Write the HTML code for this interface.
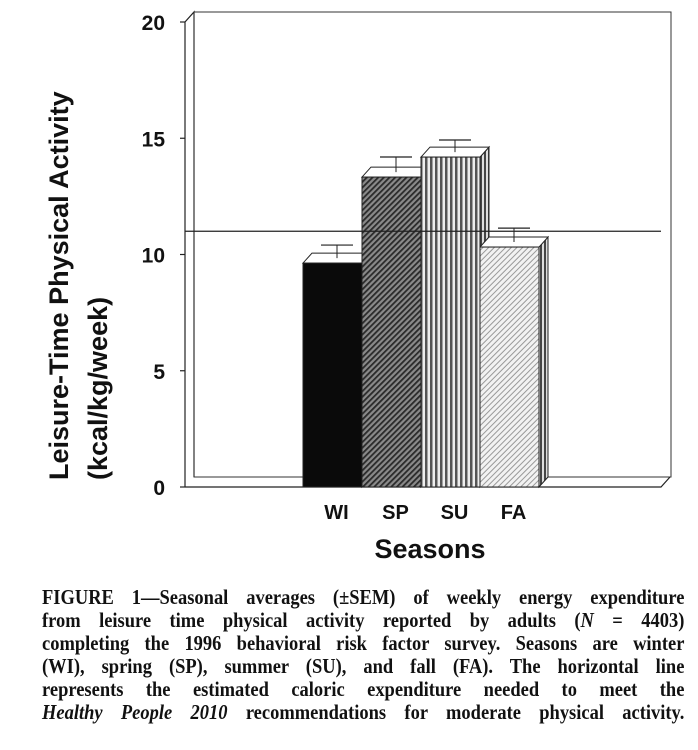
<!DOCTYPE html>
<html><head><meta charset="utf-8"><style>
html,body{margin:0;padding:0;background:#fff;width:698px;height:750px;overflow:hidden}
#cap{position:absolute;left:42px;top:586px;width:730px;transform:scaleX(0.88);transform-origin:0 0;font-family:"Liberation Serif",serif;font-weight:bold;font-size:21px;line-height:23px;color:#111}
#cap div{text-align:justify;text-align-last:justify;white-space:nowrap}
</style></head><body>
<svg id="chart" width="698" height="580" style="position:absolute;left:0;top:0" font-family="Liberation Sans, sans-serif">
<defs>
<pattern id="pSP" width="4" height="4" patternUnits="userSpaceOnUse" patternTransform="rotate(45)"><rect width="4" height="4" fill="#8a8a8a"/><rect width="1.8" height="4" fill="#2a2a2a"/></pattern>
<pattern id="pSU" width="5" height="5" patternUnits="userSpaceOnUse"><rect width="5" height="5" fill="#eee"/><rect width="2.5" height="5" fill="#555"/></pattern>
<pattern id="pFA" width="4" height="4" patternUnits="userSpaceOnUse" patternTransform="rotate(45)"><rect width="4" height="4" fill="#f2f2f2"/><rect width="1" height="4" fill="#999"/></pattern>
<pattern id="pSide" width="4" height="4" patternUnits="userSpaceOnUse"><rect width="4" height="4" fill="#ddd"/><rect width="2" height="4" fill="#444"/></pattern>
</defs>
<g id="g"></g>
</svg>
<div id="cap">
<div>FIGURE 1—Seasonal averages (±SEM) of weekly energy expenditure</div>
<div>from leisure time physical activity reported by adults (<i>N</i> = 4403)</div>
<div>completing the 1996 behavioral risk factor survey. Seasons are winter</div>
<div>(WI), spring (SP), summer (SU), and fall (FA). The horizontal line</div>
<div>represents the estimated caloric expenditure needed to meet the</div>
<div><i>Healthy People 2010</i> recommendations for moderate physical activity.</div>
</div>
<script>
const categories = ['WI','SP','SU','FA'];
const values = [9.63, 13.33, 14.19, 10.32];
const sems = [0.56, 0.65, 0.52, 0.6];
const yTicks = [0, 5, 10, 15, 20];
const refValue = 11;

const NS = 'http://www.w3.org/2000/svg';
const g = document.getElementById('g');
const X0 = 185, X1 = 661, Y0 = 487, PX = 23.25, DX = 9, DY = -10;
const fills = ['#0a0a0a','url(#pSP)','url(#pSU)','url(#pFA)'];
function y(v){ return Y0 - v*PX; }
function xBand(i){ return 303 + i*59; }
const BW = 59;
function el(tag, attrs, text){
  const e = document.createElementNS(NS, tag);
  for (const k in attrs) e.setAttribute(k, attrs[k]);
  if (text !== undefined) e.textContent = text;
  g.appendChild(e); return e;
}
let e;
e = el('polyline',{points:`${X0},${Y0} ${X0},${y(20)} ${X0+DX},${y(20)+DY} ${X0+DX},${Y0+DY}`,fill:'none',stroke:'#222','stroke-width':1.2});
 
e = el('rect',{x:X0+DX,y:y(20)+DY,width:X1-X0+1,height:Y0-y(20),fill:'none',stroke:'#333','stroke-width':1});
 
e = el('polyline',{points:`${X0},${Y0} ${X1},${Y0} ${X1+DX},${Y0+DY}`,fill:'none',stroke:'#222','stroke-width':1.2});
 
yTicks.forEach(t=>{
  const tk = el('line',{x1:X0-5,x2:X0,y1:y(t),y2:y(t),stroke:'#222','stroke-width':1.2});
   
  const tl = el('text',{x:X0-20,y:y(t)+8,'text-anchor':'end','font-size':21,'font-weight':'bold',fill:'#111'},String(t));
   
});
categories.forEach((c,i)=>{
  const x0 = xBand(i), x1 = x0+BW, yt = y(values[i]);
  const side = el('polygon',{points:`${x1},${Y0} ${x1},${yt} ${x1+DX},${yt+DY} ${x1+DX},${Y0+DY}`,fill:'url(#pSide)',stroke:'#222','stroke-width':1});
   
  const top = el('polygon',{points:`${x0},${yt} ${x1},${yt} ${x1+DX},${yt+DY} ${x0+DX},${yt+DY}`,fill:'#fff',stroke:'#222','stroke-width':1});
   
});
categories.forEach((c,i)=>{
  const x0 = xBand(i), yt = y(values[i]);
  const b = el('rect',{x:x0,y:yt,width:BW,height:Y0-yt,fill:fills[i],stroke:'#222','stroke-width':1});
   
  const cx = x0+BW/2+DX/2, ym = yt+DY/2, ye = y(values[i]+sems[i])+DY/2;
  const v = el('line',{x1:cx,x2:cx,y1:ym,y2:ye,stroke:'#222','stroke-width':1});
   
  const cp = el('line',{x1:cx-16,x2:cx+16,y1:ye,y2:ye,stroke:'#222','stroke-width':1.2});
   
  const lb = el('text',{x:x0+BW/2+4,y:519,'text-anchor':'middle','font-size':20,'font-weight':'bold',fill:'#111'},c);
   
});
e = el('line',{x1:X0,x2:X1,y1:y(refValue),y2:y(refValue),stroke:'#222','stroke-width':1.2});
 
e = el('text',{x:430,y:558,'text-anchor':'middle','font-size':27,'font-weight':'bold',fill:'#111'},'Seasons');
 
e = el('text',{x:0,y:0,transform:'translate(68,480) rotate(-90)','font-size':27,'font-weight':'bold',fill:'#111'},'Leisure-Time Physical Activity');
 
e = el('text',{x:0,y:0,transform:'translate(107,480) rotate(-90)','font-size':27,'font-weight':'bold',fill:'#111'},'(kcal/kg/week)');
 
</script>
</body></html>
